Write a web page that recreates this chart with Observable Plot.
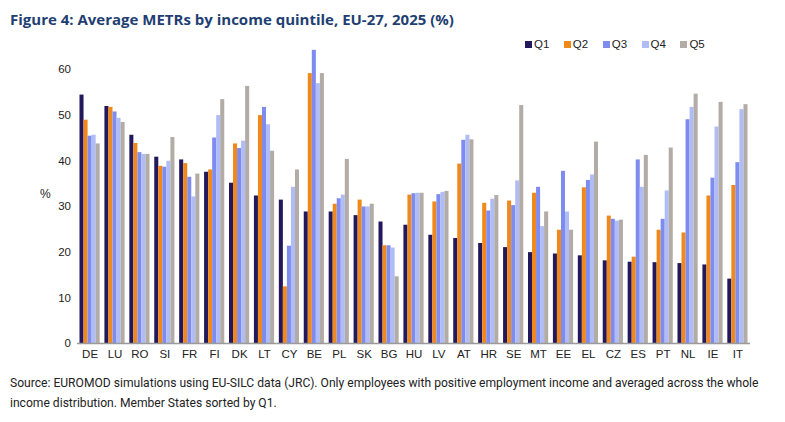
<!DOCTYPE html>
<html>
<head>
<meta charset="utf-8">
<script src="https://cdn.jsdelivr.net/npm/d3@7"></script>
<script src="https://cdn.jsdelivr.net/npm/@observablehq/plot@0.6"></script>
<style>
  html, body { margin: 0; padding: 0; background: #fff; }
  body { width: 785px; height: 422px; position: relative; overflow: hidden; font-family: "Liberation Sans", Arial, sans-serif; }
  #title { position: absolute; left: 10px; top: 9px; font-family: "Open Sans", sans-serif; font-weight: 700; font-size: 15px; color: #1f3f73; white-space: nowrap; z-index: 2; }
  #legend { position: absolute; left: 525px; top: 38px; font-size: 11.5px; color: #222; display: flex; z-index: 2; }
  #legend .item { display: flex; align-items: center; margin-right: 14.5px; }
  #legend .sw { width: 7px; height: 7px; margin-right: 2px; }
  #chart { position: absolute; left: 0; top: 30px; z-index: 1; }
  #ylab { position: absolute; left: 40px; top: 187px; font-size: 12px; color: #222; z-index: 2; }
  #caption { position: absolute; left: 10px; top: 373px; width: 775px; font-family: "Roboto", sans-serif; font-size: 12.1px; line-height: 20px; color: #222; z-index: 2; }
</style>
</head>
<body>
<div id="title">Figure 4: Average METRs by income quintile, EU-27, 2025 (%)</div>
<div id="legend"></div>
<div id="chart"></div>
<div id="ylab">%</div>
<div id="caption">Source: EUROMOD simulations using EU-SILC data (JRC). Only employees with positive employment income and averaged across the whole income distribution. Member States sorted by Q1.</div>
<script>
const countries = ["DE","LU","RO","SI","FR","FI","DK","LT","CY","BE","PL","SK","BG","HU","LV","AT","HR","SE","MT","EE","EL","CZ","ES","PT","NL","IE","IT"];
const quintiles = ["Q1","Q2","Q3","Q4","Q5"];
const q1 = [54.4,51.9,45.6,40.8,40.2,37.5,35.1,32.3,31.4,28.8,28.8,28.0,26.6,25.9,23.7,23.0,21.9,21.0,19.9,19.6,19.2,18.1,17.8,17.7,17.5,17.2,14.1];
const q2 = [48.9,51.7,43.8,38.8,39.4,38.0,43.7,49.9,12.4,59.1,30.5,31.4,21.4,32.5,31.0,39.3,30.7,31.2,32.9,24.8,34.1,27.9,18.9,24.8,24.2,32.3,34.6];
const q3 = [45.4,50.7,41.8,38.6,36.4,45.0,42.7,51.7,21.3,64.2,31.7,29.9,21.4,32.8,32.6,44.5,29.0,30.2,34.2,37.7,35.7,27.2,40.2,27.2,49.0,36.2,39.6];
const q4 = [45.6,49.3,41.4,39.9,32.1,49.9,44.3,47.9,34.2,56.9,32.5,29.9,20.9,32.9,33.1,45.6,31.6,35.6,25.6,28.8,36.9,26.8,34.2,33.4,51.7,47.4,51.2];
const q5 = [43.7,48.4,41.4,45.1,37.1,53.4,56.3,42.1,38.0,59.1,40.3,30.5,14.6,32.9,33.3,44.6,32.4,52.1,28.8,24.8,44.1,27.0,41.2,42.8,54.6,52.8,52.3];
const yTicks = [0,10,20,30,40,50,60];
const colors = ["#24185c","#f0891a","#7d8cee","#b0bcf5","#b2aba6"];

const series = [q1,q2,q3,q4,q5];
const data = [];
countries.forEach((c, i) => quintiles.forEach((q, j) => data.push({country: c, q, value: series[j][i]})));

const legend = document.getElementById("legend");
quintiles.forEach((q, j) => {
  const it = document.createElement("div");
  it.className = "item";
  it.innerHTML = `<span class="sw" style="background:${colors[j]}"></span><span>${q}</span>`;
  legend.appendChild(it);
});

const chart = Plot.plot({
  width: 785,
  height: 335,
  marginLeft: 79.5,
  marginRight: 37.5,
  marginTop: 39,
  marginBottom: 22,
  style: {fontFamily: "'Liberation Sans', Arial, sans-serif", fontSize: "11.5px", color: "#222", background: "transparent"},
  facet: {data, x: "country", label: null},
  fx: {domain: countries, padding: 0.19, round: false, axis: "bottom", tickSize: 0, tickPadding: 6, label: null},
  x: {domain: quintiles, axis: null, padding: 0, round: false},
  y: {domain: [0, 60], ticks: yTicks, tickSize: 0, tickPadding: 9, label: null, grid: false},
  color: {domain: quintiles, range: colors},
  marks: [
    Plot.barY(data, {x: "q", y: "value", fill: "q", inset: 0}),
    Plot.ruleY([0], {stroke: "#9a9a9a", strokeWidth: 1.5, insetLeft: -2.5, insetRight: -2.5})
  ]
});
document.getElementById("chart").appendChild(chart);
</script>
</body>
</html>
